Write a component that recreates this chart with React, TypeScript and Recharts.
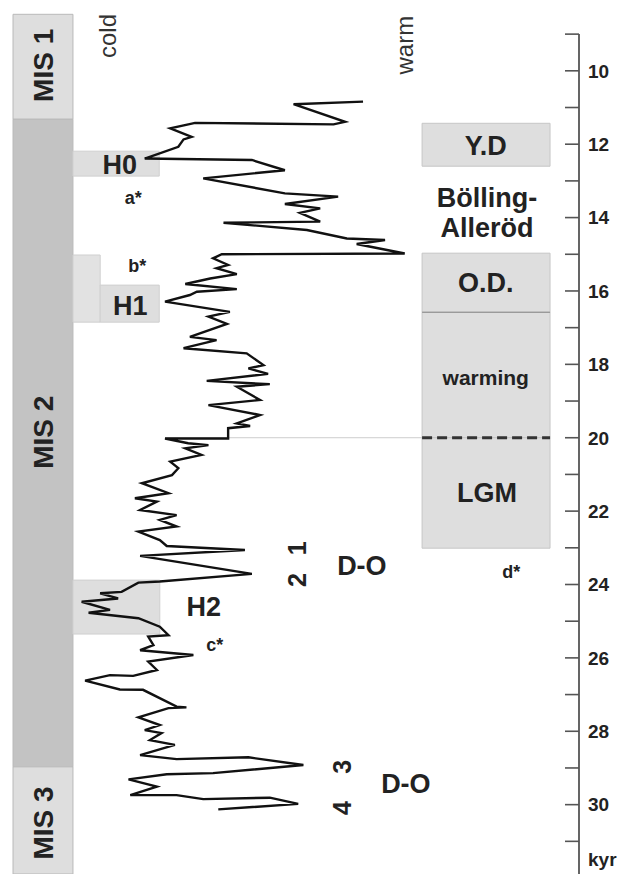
import React from "react";
import {
  ScatterChart,
  Scatter,
  XAxis,
  YAxis,
  ReferenceArea,
  ReferenceLine,
  ReferenceDot,
} from "recharts";

// age axis (kyr), drawn downwards
const AGE_TOP = 8.07;
const AGE_BOTTOM = 31.89;
const AGE_TICKS = [
  9, 10, 11, 12, 13, 14, 15, 16, 17, 18, 19, 20, 21, 22, 23, 24, 25, 26, 27, 28,
  29, 30, 31,
];
const UNIT_AT = 31.5;

// climate proxy curve: age (kyr) and relative warmth index (cold -> warm)
const curveAges = [
  10.84, 10.91, 11.39, 11.46, 11.42, 11.57, 11.8, 11.87, 12.07, 12.39,
  12.43, 12.71, 12.93, 13.34, 13.43, 13.63, 13.75, 13.87, 14.11, 14.14,
  14.34, 14.57, 14.61, 14.72, 14.98, 15.0, 15.11, 15.29, 15.38, 15.54,
  15.66, 15.81, 15.95, 16.02, 16.11, 16.29, 16.57, 16.7, 16.9, 17.25,
  17.34, 17.56, 17.7, 18.02, 18.11, 18.26, 18.45, 18.54, 18.61, 18.97,
  19.11, 19.38, 19.61, 19.68, 19.74, 20.02, 20.02, 20.15, 20.2, 20.29,
  20.47, 20.65, 20.83, 21.02, 21.24, 21.51, 21.65, 21.74, 21.97, 22.11,
  22.24, 22.42, 22.56, 22.79, 22.95, 23.06, 23.22, 23.71, 23.92, 23.95,
  24.2, 24.24, 24.38, 24.47, 24.69, 24.77, 24.92, 25.15, 25.38, 25.42,
  25.65, 25.79, 25.92, 26.1, 26.33, 26.49, 26.47, 26.62, 26.86, 26.87,
  27.33, 27.35, 27.37, 27.62, 27.83, 27.97, 28.05, 28.24, 28.37, 28.65,
  28.76, 28.71, 28.92, 29.14, 29.17, 29.31, 29.51, 29.74, 29.74, 29.85,
  29.81, 29.98, 30.13,
];
const curveWarmth = [
  62.7, 50.7, 59.6, 57.6, 33.7, 29.4, 33.1, 31.7, 30.8, 25.0,
  43.5, 49.2, 35.1, 49.2, 58.4, 49.2, 55.3, 51.8, 55.3, 38.6,
  53.0, 59.9, 66.5, 61.6, 69.9, 38.3, 36.8, 39.4, 37.4, 40.9,
  36.3, 32.0, 40.9, 34.0, 32.8, 28.5, 39.7, 36.0, 39.2, 32.8,
  37.4, 31.7, 42.6, 45.5, 42.9, 46.3, 35.7, 46.6, 40.9, 44.9,
  36.0, 44.9, 40.9, 43.2, 39.4, 39.4, 28.5, 32.5, 36.0, 32.0,
  34.8, 29.4, 30.8, 29.7, 24.5, 29.1, 23.3, 27.1, 24.2, 30.5,
  27.6, 30.5, 23.9, 27.6, 28.8, 42.3, 24.2, 43.5, 27.6, 23.9,
  21.0, 17.3, 20.4, 14.1, 19.0, 15.3, 23.9, 27.6, 29.1, 25.6,
  26.5, 24.2, 33.4, 25.6, 27.1, 23.0, 19.0, 14.7, 20.7, 24.7,
  30.5, 32.2, 29.1, 23.9, 27.6, 25.0, 27.9, 25.9, 30.2, 24.2,
  30.5, 42.9, 52.4, 36.8, 28.8, 22.2, 27.1, 22.5, 30.5, 35.1,
  46.6, 51.5, 37.7,
];

// marine isotope stages
const misNames = ["MIS 1", "MIS 2", "MIS 3"];
const misStart = [8.46, 11.32, 28.97];
const misEnd = [11.32, 28.97, AGE_BOTTOM];

// heinrich events
const heinrichStart = [12.19, 15.02, 15.84, 23.88];
const heinrichEnd = [12.87, 16.85, 16.85, 25.35];

// climate periods (right column)
const periodNames = ["Y.D", "O.D.", "warming", "LGM"];
const periodStart = [11.43, 14.97, 16.58, 20.0];
const periodEnd = [12.6, 16.58, 20.0, 23.01];

const FONT = "'Liberation Sans', Arial, Helvetica, sans-serif";
const INK = "#222";

const curve = curveAges.map((age, i) => ({ age, warmth: curveWarmth[i] }));

function AgeTick(props: any) {
  const { x, y, payload } = props;
  const v = payload.value;
  if (v === UNIT_AT) {
    return (
      <text x={x + 9} y={y} dy="0.35em" fontSize={19} fontWeight="bold" fill={INK}>
        kyr
      </text>
    );
  }
  return (
    <g>
      <line x1={x - 14} x2={x} y1={y} y2={y} stroke="#555" strokeWidth={1.6} />
      {v % 2 === 0 && (
        <text x={x + 9} y={y} dy="0.36em" fontSize={19} fontWeight="bold" fill={INK}>
          {v}
        </text>
      )}
    </g>
  );
}

function note(
  key: string,
  text: string,
  warmth: number,
  age: number,
  size: number,
  weight: string = "bold",
  angle: number = 0,
  fill: string = INK
) {
  return (
    <ReferenceDot
      key={key}
      x={warmth}
      y={age}
      r={0}
      fill="none"
      stroke="none"
      ifOverflow="visible"
      label={{
        value: text,
        position: "center",
        fontSize: size,
        fontWeight: weight,
        fill,
        angle,
      }}
    />
  );
}

export default function App() {
  return (
    <div style={{ width: 633, height: 874, fontFamily: FONT, background: "#fff" }}>
      <style>{"body{margin:0}"}</style>
      <ScatterChart
        width={633}
        height={874}
        margin={{ top: 0, right: 0, bottom: 0, left: 0 }}
      >
        <XAxis type="number" dataKey="warmth" domain={[0, 100]} hide allowDataOverflow />
        <YAxis
          type="number"
          dataKey="age"
          orientation="right"
          width={54}
          domain={[AGE_TOP, AGE_BOTTOM]}
          reversed
          allowDataOverflow
          ticks={[...AGE_TICKS, UNIT_AT]}
          interval={0}
          axisLine={false}
          tickLine={false}
          tickSize={0}
          tickMargin={0}
          tick={<AgeTick />}
        />

        {misNames.map((n, i) => (
          <ReferenceArea
            key={n}
            x1={2.25}
            x2={12.6}
            y1={misStart[i]}
            y2={misEnd[i]}
            fill={i === 1 ? "#c3c3c3" : "#dedede"}
            fillOpacity={1}
            stroke="#b9b9b9"
            strokeWidth={1}
            ifOverflow="visible"
          />
        ))}

        <ReferenceArea x1={12.6} x2={27.5} y1={heinrichStart[0]} y2={heinrichEnd[0]} fill="#dedede" fillOpacity={1} stroke="#cfcfcf" />
        <ReferenceArea x1={12.6} x2={17.3} y1={heinrichStart[1]} y2={heinrichEnd[1]} fill="#e2e2e2" fillOpacity={1} stroke="#cfcfcf" />
        <ReferenceArea x1={17.3} x2={27.5} y1={heinrichStart[2]} y2={heinrichEnd[2]} fill="#dedede" fillOpacity={1} stroke="#cfcfcf" />
        <ReferenceArea x1={12.6} x2={27.6} y1={heinrichStart[3]} y2={heinrichEnd[3]} fill="#dedede" fillOpacity={1} stroke="#cfcfcf" />

        {periodNames.map((n, i) => (
          <ReferenceArea
            key={n}
            x1={72.9}
            x2={95}
            y1={periodStart[i]}
            y2={periodEnd[i]}
            fill="#dedede"
            fillOpacity={1}
            stroke="#c6c6c6"
            strokeWidth={1}
          />
        ))}

        <ReferenceLine
          segment={[{ x: 72.9, y: 16.58 }, { x: 95, y: 16.58 }]}
          stroke="#8a8a8a"
          strokeWidth={1.2}
        />
        <ReferenceLine
          segment={[{ x: 28.5, y: 20 }, { x: 72.9, y: 20 }]}
          stroke="#cdcdcd"
          strokeWidth={1}
        />
        <ReferenceLine
          segment={[{ x: 72.9, y: 20 }, { x: 95, y: 20 }]}
          stroke="#333"
          strokeWidth={3}
          strokeDasharray="10 5"
        />
        <ReferenceLine
          segment={[{ x: 100, y: 9 }, { x: 100, y: AGE_BOTTOM }]}
          stroke="#555"
          strokeWidth={1.8}
          ifOverflow="visible"
        />

        <Scatter
          data={curve}
          line={{ stroke: "#111", strokeWidth: 2.4 }}
          lineJointType="linear"
          shape={() => <g />}
          isAnimationActive={false}
        />

        {note("mis1", misNames[0], 7.43, 9.85, 28, "bold", -90)}
        {note("mis2", misNames[1], 7.43, 19.85, 28, "bold", -90)}
        {note("mis3", misNames[2], 7.43, 30.5, 28, "bold", -90)}
        {note("cold", "cold", 18.5, 9.05, 24, "normal", -90, "#333")}
        {note("warm", "warm", 69.9, 9.3, 24, "normal", -90, "#333")}
        {note("h0", "H0", 20.7, 12.55, 27)}
        {note("h1", "H1", 22.5, 16.39, 27)}
        {note("h2", "H2", 35.2, 24.61, 27)}
        {note("a", "a*", 23.0, 13.45, 18)}
        {note("b", "b*", 23.7, 15.32, 18)}
        {note("c", "c*", 37.1, 25.65, 18)}
        {note("d", "d*", 88.3, 23.66, 18)}
        {note("yd", periodNames[0], 83.9, 12.02, 27)}
        {note("bol1", "Bölling-", 84.1, 13.45, 27)}
        {note("bol2", "Alleröd", 84.1, 14.27, 27)}
        {note("od", periodNames[1], 83.9, 15.78, 27)}
        {note("warming", periodNames[2], 83.9, 18.37, 21)}
        {note("lgm", periodNames[3], 84.1, 21.5, 27)}
        {note("do1", "D-O", 62.5, 23.47, 27)}
        {note("do2", "D-O", 70.1, 29.41, 27)}
        {note("n1", "1", 51.3, 23.01, 25, "bold", -90)}
        {note("n2", "2", 51.3, 23.88, 25, "bold", -90)}
        {note("n3", "3", 59.1, 28.97, 25, "bold", -90)}
        {note("n4", "4", 59.1, 30.09, 25, "bold", -90)}
      </ScatterChart>
    </div>
  );
}
